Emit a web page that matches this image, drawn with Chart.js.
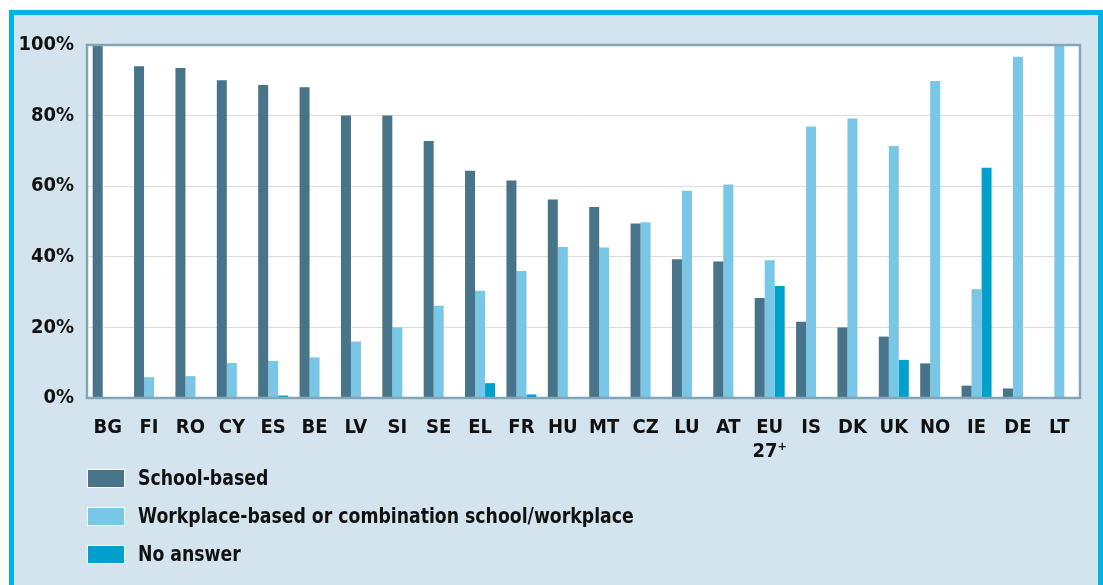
<!DOCTYPE html>
<html>
<head>
<meta charset="utf-8">
<script src="https://cdn.jsdelivr.net/npm/chart.js@4.4.1/dist/chart.umd.min.js"></script>
<style>
  html, body { margin: 0; padding: 0; background: #ffffff; width: 1103px; height: 585px; overflow: hidden; }
  #frame { position: absolute; left: 9px; top: 10px; width: 1094px; height: 600px; box-sizing: border-box;
           border: 5px solid #00b3e4; border-bottom: none; background: #d4e4ee; }
  #chart { position: absolute; left: 0; top: 0; }
  #legend { position: absolute; left: 87px; top: 459px; font-family: "Liberation Sans Narrow", "DejaVu Sans Condensed", sans-serif;
            font-weight: bold; font-size: 21px; color: #111; }
  .item { height: 38px; display: flex; align-items: center; }
  .box { width: 36px; height: 17px; border: 1px solid #ffffff; margin-right: 13px; flex: none; }
  .lbl { display: inline-block; transform: scaleX(0.915); transform-origin: left center; white-space: nowrap; }
</style>
</head>
<body>
<div id="frame"></div>
<canvas id="chart" width="1103" height="585"></canvas>
<div id="legend"></div>
<script>
const categories = ['BG','FI','RO','CY','ES','BE','LV','SI','SE','EL','FR','HU','MT','CZ','LU','AT',['EU','27\u207A'],'IS','DK','UK','NO','IE','DE','LT'];
const schoolBased = [100, 94, 93.5, 90, 88.7, 88, 80, 80, 72.8, 64.4, 61.6, 56.2, 54.1, 49.4, 39.3, 38.7, 28.3, 21.6, 20, 17.4, 9.8, 3.5, 2.7, 0];
const workplace   = [0, 5.9, 6.2, 9.9, 10.5, 11.5, 16, 20, 26.1, 30.4, 36, 42.8, 42.6, 49.8, 58.7, 60.5, 39, 76.9, 79.2, 71.4, 89.8, 30.8, 96.7, 100];
const noAnswer    = [0, 0, 0, 0, 0.7, 0, 0, 0, 0, 4.2, 1.0, 0, 0, 0, 0, 0, 31.7, 0, 0, 10.8, 0, 65.2, 0, 0];
const yTicks = [0, 20, 40, 60, 80, 100];
const seriesLabels = ['School-based', 'Workplace-based or combination school/workplace', 'No answer'];
const seriesColors = ['#477489', '#7ac6e6', '#00a0cd'];

const FONT = '"Liberation Sans Narrow", "DejaVu Sans Condensed", sans-serif';

const plotFrame = {
  id: 'plotFrame',
  beforeDraw(chart) {
    const a = chart.chartArea, c = chart.ctx;
    c.save(); c.fillStyle = '#ffffff'; c.fillRect(a.left, a.top, a.right - a.left, a.bottom - a.top); c.restore();
  },
  afterDatasetsDraw(chart) {
    const a = chart.chartArea, c = chart.ctx;
    c.save(); c.strokeStyle = '#82a6b8'; c.lineWidth = 2.5;
    c.strokeRect(a.left, a.top, a.right - a.left, a.bottom - a.top); c.restore();
  }
};

const htmlLegend = {
  id: 'htmlLegend',
  afterUpdate(chart) {
    const el = document.getElementById('legend');
    el.innerHTML = '';
    chart.data.datasets.forEach(ds => {
      const it = document.createElement('div'); it.className = 'item';
      const b = document.createElement('div'); b.className = 'box'; b.style.background = ds.backgroundColor;
      const t = document.createElement('span'); t.className = 'lbl'; t.textContent = ds.label;
      it.appendChild(b); it.appendChild(t); el.appendChild(it);
    });
  }
};

new Chart(document.getElementById('chart'), {
  type: 'bar',
  data: {
    labels: categories,
    datasets: [
      { label: seriesLabels[0], data: schoolBased, backgroundColor: seriesColors[0] },
      { label: seriesLabels[1], data: workplace, backgroundColor: seriesColors[1] },
      { label: seriesLabels[2], data: noAnswer, backgroundColor: seriesColors[2] }
    ]
  },
  options: {
    responsive: false,
    animation: false,
    layout: { padding: { left: 0, right: 23, top: 45, bottom: 0 } },
    datasets: { bar: { categoryPercentage: 0.725, barPercentage: 1.0, borderWidth: 0 } },
    plugins: { legend: { display: false }, tooltip: { enabled: false } },
    scales: {
      x: {
        grid: { display: false, drawTicks: false },
        border: { display: false },
        ticks: { color: '#111', font: { family: FONT, size: 20, weight: 'bold' }, padding: 18, maxRotation: 0, autoSkip: false },
        afterFit(s) { s.height = 585 - 398; }
      },
      y: {
        min: 0, max: 100,
        afterBuildTicks(s) { s.ticks = yTicks.map(v => ({ value: v })); },
        grid: { color: '#dcdcdc', lineWidth: 1, drawTicks: false },
        border: { display: false },
        ticks: { color: '#111', font: { family: FONT, size: 20, weight: 'bold' }, padding: 13, callback: v => v + '%' },
        afterFit(s) { s.width = 87; }
      }
    }
  },
  plugins: [plotFrame, htmlLegend]
});
</script>
</body>
</html>
